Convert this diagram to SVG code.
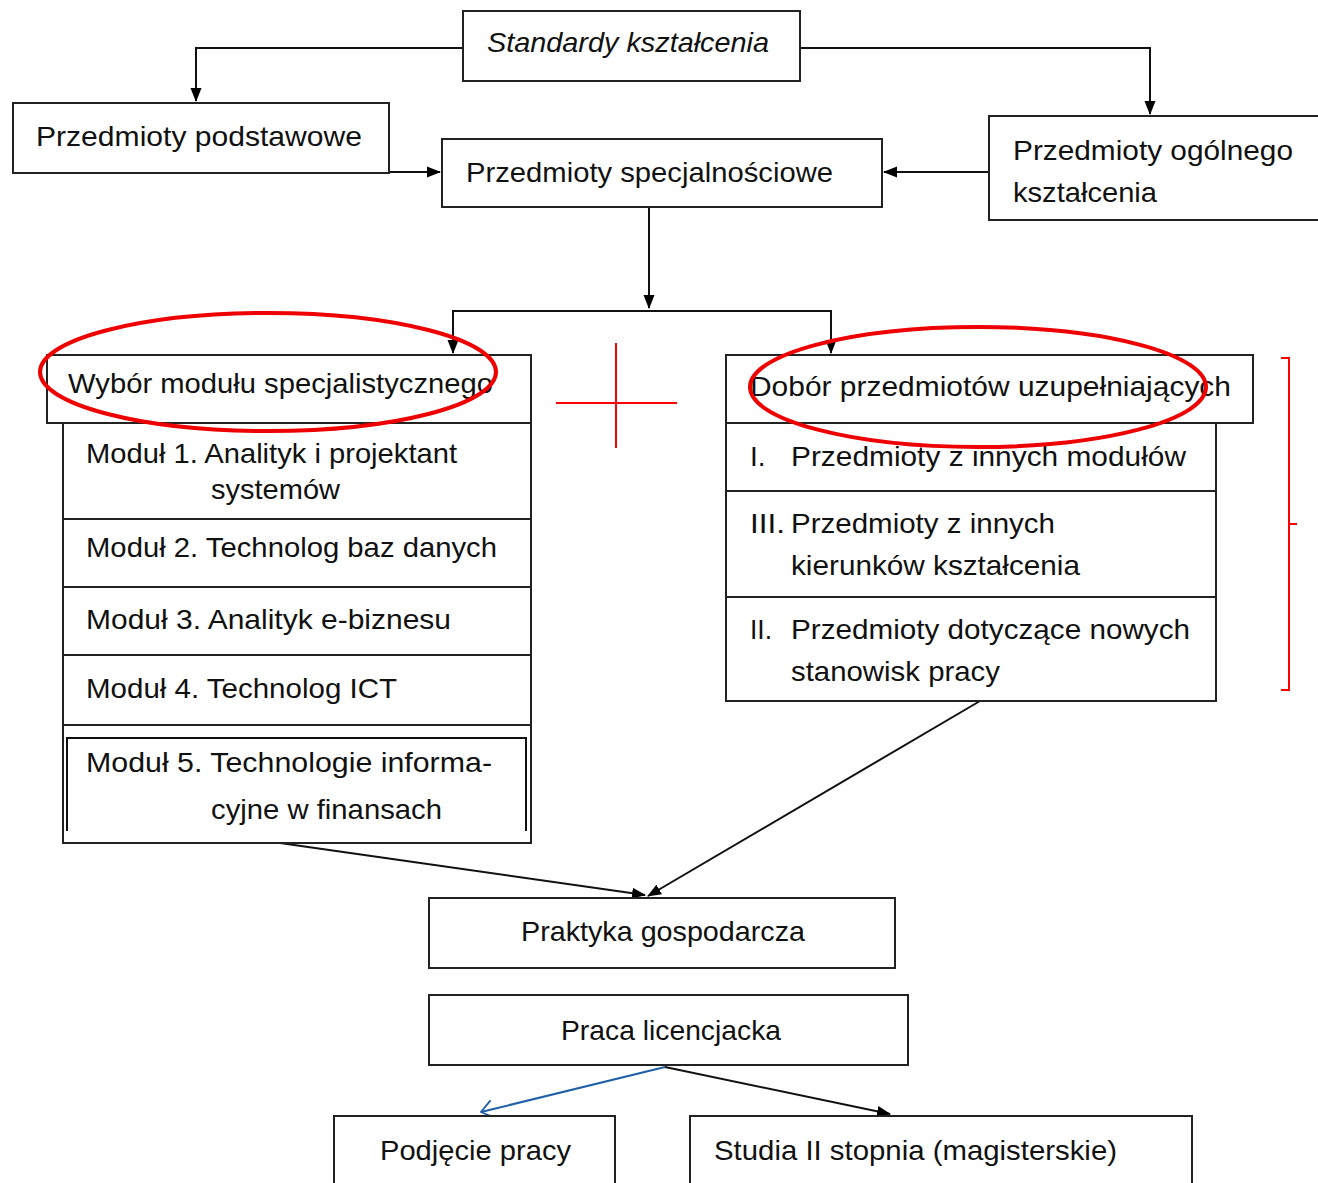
<svg xmlns="http://www.w3.org/2000/svg" width="1318" height="1183" viewBox="0 0 1318 1183">
<defs>
<marker id="ah" viewBox="0 0 14 12" refX="13" refY="6" markerWidth="14" markerHeight="12" markerUnits="userSpaceOnUse" orient="auto">
<path d="M0,0.5 L14,6 L0,11.5 z" fill="#000"/>
</marker>
<marker id="ob" viewBox="0 0 16 20" refX="15" refY="10" markerWidth="16" markerHeight="20" markerUnits="userSpaceOnUse" orient="auto">
<path d="M3,1 L15,10 L3,19" fill="none" stroke="#1f5fa8" stroke-width="1.8"/>
</marker>
<style>
.b{fill:#fff;stroke:#222;stroke-width:2}
.t{font-family:"Liberation Sans",Arial,sans-serif;font-size:28px;fill:#111}
.i{font-style:italic}
.c{fill:none;stroke:#111;stroke-width:2}
.r{fill:none;stroke:#e00;stroke-width:4}
.rl{fill:none;stroke:#f00;stroke-width:2}
</style>
</defs>
<rect width="1318" height="1183" fill="#fff"/>

<g id="connectors">
<path class="c" d="M463,48 H196 V101" marker-end="url(#ah)"/>
<path class="c" d="M800,48 H1150 V114" marker-end="url(#ah)"/>
<path class="c" d="M389,172 H440" marker-end="url(#ah)"/>
<path class="c" d="M989,172 H884" marker-end="url(#ah)"/>
<path class="c" d="M649,207 V308" marker-end="url(#ah)"/>
<path class="c" d="M453,353 V311 H831 V353" marker-end="url(#ah)"/>
<path class="c" d="M453,311 V353" marker-end="url(#ah)"/>
<path class="c" d="M280,843 L645,895" marker-end="url(#ah)"/>
<path class="c" d="M980,701 L648,896" marker-end="url(#ah)"/>
<path d="M665,1067 L481,1112" fill="none" stroke="#1f5fa8" stroke-width="2" marker-end="url(#ob)"/>
<path class="c" d="M665,1067 L890,1114" marker-end="url(#ah)"/>
</g>

<g id="standardy">
<rect class="b" x="463" y="11" width="337" height="70"/>
<text class="t i" x="487" y="52" textLength="282" lengthAdjust="spacingAndGlyphs">Standardy kształcenia</text>
</g>
<g id="podstawowe">
<rect class="b" x="13" y="103" width="376" height="70"/>
<text class="t" x="36" y="146" textLength="326" lengthAdjust="spacingAndGlyphs">Przedmioty podstawowe</text>
</g>
<g id="specjalnosciowe">
<rect class="b" x="442" y="139" width="440" height="68"/>
<text class="t" x="466" y="182" textLength="367" lengthAdjust="spacingAndGlyphs">Przedmioty specjalnościowe</text>
</g>
<g id="ogolnego">
<rect class="b" x="989" y="116" width="340" height="104"/>
<text class="t" x="1013" y="160" textLength="280" lengthAdjust="spacingAndGlyphs">Przedmioty ogólnego</text>
<text class="t" x="1013" y="202" textLength="144" lengthAdjust="spacingAndGlyphs">kształcenia</text>
</g>

<g id="wybor">
<rect class="b" x="47" y="355" width="484" height="68"/>
<text class="t" x="68" y="393" textLength="425" lengthAdjust="spacingAndGlyphs">Wybór modułu specjalistycznego</text>
</g>
<g id="modul1">
<rect class="b" x="63" y="423" width="468" height="96"/>
<text class="t" x="86" y="463" textLength="371" lengthAdjust="spacingAndGlyphs">Moduł 1. Analityk i projektant</text>
<text class="t" x="211" y="499" textLength="129" lengthAdjust="spacingAndGlyphs">systemów</text>
</g>
<g id="modul2">
<rect class="b" x="63" y="519" width="468" height="68"/>
<text class="t" x="86" y="557" textLength="411" lengthAdjust="spacingAndGlyphs">Moduł 2. Technolog baz danych</text>
</g>
<g id="modul3">
<rect class="b" x="63" y="587" width="468" height="68"/>
<text class="t" x="86" y="629" textLength="365" lengthAdjust="spacingAndGlyphs">Moduł 3. Analityk e-biznesu</text>
</g>
<g id="modul4">
<rect class="b" x="63" y="655" width="468" height="70"/>
<text class="t" x="86" y="698" textLength="311" lengthAdjust="spacingAndGlyphs">Moduł 4. Technolog ICT</text>
</g>
<g id="modul5">
<rect class="b" x="63" y="725" width="468" height="118"/>
<path class="c" d="M67,831 V738 H526 V831"/>
<text class="t" x="86" y="772" textLength="406" lengthAdjust="spacingAndGlyphs">Moduł 5. Technologie informa-</text>
<text class="t" x="211" y="819" textLength="231" lengthAdjust="spacingAndGlyphs">cyjne w finansach</text>
</g>

<g id="dobor">
<rect class="b" x="726" y="355" width="527" height="68"/>
<text class="t" x="750" y="396" textLength="481" lengthAdjust="spacingAndGlyphs">Dobór przedmiotów uzupełniających</text>
</g>
<g id="grupa1">
<rect class="b" x="726" y="423" width="490" height="68"/>
<text class="t" x="750" y="466">I.</text>
<text class="t" x="791" y="466" textLength="395" lengthAdjust="spacingAndGlyphs">Przedmioty z innych modułów</text>
</g>
<g id="grupa3">
<rect class="b" x="726" y="491" width="490" height="106"/>
<text class="t" x="750" y="533" textLength="35" lengthAdjust="spacingAndGlyphs">III.</text>
<text class="t" x="791" y="533" textLength="264" lengthAdjust="spacingAndGlyphs">Przedmioty z innych</text>
<text class="t" x="791" y="575" textLength="289" lengthAdjust="spacingAndGlyphs">kierunków kształcenia</text>
</g>
<g id="grupa2">
<rect class="b" x="726" y="597" width="490" height="104"/>
<text class="t" x="750" y="639" textLength="22" lengthAdjust="spacingAndGlyphs">II.</text>
<text class="t" x="791" y="639" textLength="399" lengthAdjust="spacingAndGlyphs">Przedmioty dotyczące nowych</text>
<text class="t" x="791" y="681" textLength="209" lengthAdjust="spacingAndGlyphs">stanowisk pracy</text>
</g>

<g id="praktyka">
<rect class="b" x="429" y="898" width="466" height="70"/>
<text class="t" x="521" y="941" textLength="284" lengthAdjust="spacingAndGlyphs">Praktyka gospodarcza</text>
</g>
<g id="praca">
<rect class="b" x="429" y="995" width="479" height="70"/>
<text class="t" x="561" y="1040" textLength="220" lengthAdjust="spacingAndGlyphs">Praca licencjacka</text>
</g>
<g id="podjecie">
<rect class="b" x="334" y="1116" width="281" height="80"/>
<text class="t" x="380" y="1160" textLength="191" lengthAdjust="spacingAndGlyphs">Podjęcie pracy</text>
</g>
<g id="studia">
<rect class="b" x="690" y="1116" width="502" height="80"/>
<text class="t" x="714" y="1160" textLength="403" lengthAdjust="spacingAndGlyphs">Studia II stopnia (magisterskie)</text>
</g>

<g id="annotations">
<ellipse class="r" cx="268" cy="372" rx="228" ry="59"/>
<ellipse class="r" cx="978" cy="387" rx="228" ry="60"/>
<path class="rl" d="M616,343 V448 M556,403 H677"/>
<path class="rl" d="M1281,358 H1289 V690 H1281 M1289,524 H1297"/>
</g>
</svg>
